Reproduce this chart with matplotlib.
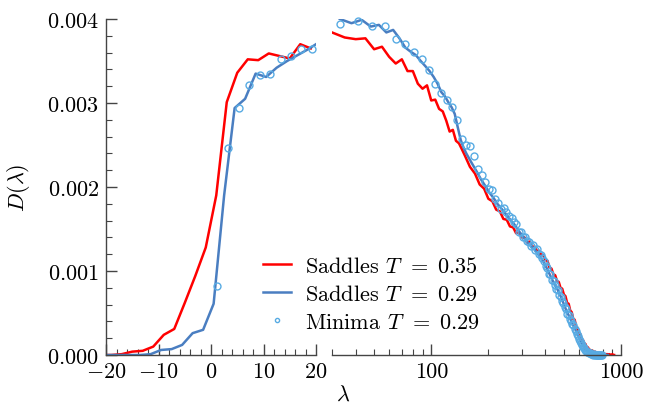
import numpy as np
import matplotlib
matplotlib.use("Agg")
import matplotlib.pyplot as plt
from matplotlib.ticker import MultipleLocator, NullFormatter, LogLocator

plt.rcParams['font.family'] = 'serif'
plt.rcParams['font.serif'] = ['cmr10']
plt.rcParams['mathtext.fontset'] = 'cm'
plt.rcParams['axes.formatter.use_mathtext'] = True
plt.rcParams['font.size'] = 16

RED = '#FF0000'
BLUE = '#4A7EC1'
LIGHT = '#58ABE3'
SPINE = '#444444'

# ---------------- left panel (linear lambda) ----------------
lam_red_left = [-21, -19, -17, -15, -13, -11, -9, -7, -5, -3, -1, 1, 3, 5, 7, 9, 11, 13, 15, 17, 19]
d_red_left = [0.0, 0.0, 0.00001, 0.00004, 0.00005, 0.0001, 0.00024, 0.00031, 0.00062, 0.00094,
              0.00128, 0.0019, 0.00301, 0.00336, 0.00352, 0.00351, 0.00359, 0.00356, 0.00353,
              0.0037, 0.00365]

lam_blue_left = [-21.5, -19.5, -17.5, -15.5, -13.5, -11.5, -9.5, -7.5, -5.5, -3.5, -1.5, 0.5,
                 2.5, 4.5, 6.5, 8.5, 10.5, 12.5, 14.5, 16.5, 18.5, 20.5]
d_blue_left = [0.0, 0.0, 0.0, 0.0, 0.0, 0.00001, 0.00006, 0.00007, 0.00012, 0.00026, 0.0003,
               0.00061, 0.0019, 0.00294, 0.00305, 0.00335, 0.00331, 0.00342, 0.0035, 0.00357,
               0.00364, 0.00372]

lam_min_left = [1.2, 3.2, 5.3, 7.2, 9.3, 11.3, 13.3, 15.2, 17.2, 19.2]
d_min_left = [0.00082, 0.00246, 0.00294, 0.00322, 0.00333, 0.00335, 0.00352, 0.00356,
              0.00364, 0.00364]

# ---------------- right panel (log lambda) ----------------
lam_red_right = np.concatenate([np.arange(30, 150, 5), np.arange(150, 930, 10)])
d_red_right = [
    0.00384, 0.00378, 0.00376, 0.00377, 0.00364, 0.00367, 0.00355, 0.00347, 0.00352, 0.00338,
    0.00338, 0.00323, 0.00317, 0.00321, 0.00303, 0.00304, 0.00293, 0.00290, 0.00279, 0.00266,
    0.00268, 0.00255, 0.00252, 0.00245,
    0.00238, 0.00224, 0.00216, 0.00203, 0.00198, 0.00186, 0.00183, 0.00173, 0.00171, 0.00162,
    0.00161, 0.00153, 0.00152, 0.00145, 0.00146, 0.00140, 0.00140, 0.00134, 0.00135, 0.00129,
    0.00129, 0.00124, 0.00124, 0.00119, 0.00119, 0.00113, 0.00112, 0.00104, 0.00103, 0.00096,
    0.00095, 0.00088, 0.00087, 0.00080, 0.00079, 0.00072, 0.00070, 0.00062, 0.00061, 0.00053,
    0.00051, 0.00043, 0.00042, 0.00034, 0.00032, 0.00026, 0.00025, 0.00019, 0.00018, 0.00014,
    0.00013, 0.00009, 0.00009, 0.00006, 0.00006, 0.00004, 0.00005, 0.00003, 0.00004, 0.00002,
    0.00003, 0.00002, 0.00002, 0.00001, 0.00002, 0.00001, 0.00002, 0.00001, 0.00001, 0.00001,
    0.00001, 0.0, 0.00001, 0.0, 0.0, 0.00001, 0.0, 0.0]

lam_blue_right = np.concatenate([np.arange(33, 150, 5), np.arange(153, 860, 10)])
d_blue_right = [
    0.00400, 0.00395, 0.00399, 0.00391, 0.00393, 0.00384, 0.00387, 0.00377, 0.00366, 0.00361,
    0.00357, 0.00350, 0.00344, 0.00338, 0.00331, 0.00323, 0.00313, 0.00308, 0.00301, 0.00295,
    0.00287, 0.00271, 0.00256, 0.00247,
    0.00240, 0.00229, 0.00219, 0.00209, 0.00201, 0.00193, 0.00187, 0.00180, 0.00175, 0.00170,
    0.00165, 0.00160, 0.00156, 0.00151, 0.00146, 0.00142, 0.00138, 0.00134, 0.00131, 0.00128,
    0.00125, 0.00121, 0.00118, 0.00114, 0.00110, 0.00105, 0.00100, 0.00095, 0.00090, 0.00086,
    0.00082, 0.00078, 0.00073, 0.00069, 0.00064, 0.00059, 0.00054, 0.00050, 0.00046, 0.00042,
    0.00038, 0.00034, 0.00031, 0.00027, 0.00023, 0.00020, 0.00016, 0.00013, 0.00010, 0.00008,
    0.00006, 0.00005, 0.00004, 0.00003, 0.00002, 0.00002, 0.00001, 0.00001, 0.00001, 0.00001,
    0.0, 0.00001, 0.0, 0.0, 0.0, 0.0, 0.0, 0.0, 0.0, 0.0, 0.0]

lam_min_right = np.arange(33, 800, 8)
d_min_right = [
    0.00394, 0.00398, 0.00392, 0.00392, 0.00376, 0.00370, 0.00361, 0.00352, 0.00339, 0.00323,
    0.00312, 0.00303, 0.00295, 0.00280, 0.00257, 0.00250, 0.00249, 0.00237, 0.00221, 0.00214,
    0.00206, 0.00198, 0.00196, 0.00186, 0.00181, 0.00174, 0.00175, 0.00170, 0.00165, 0.00163,
    0.00158, 0.00156, 0.00146, 0.00147, 0.00140, 0.00141, 0.00136, 0.00135, 0.00130, 0.00131,
    0.00125, 0.00126, 0.00120, 0.00119, 0.00116, 0.00112, 0.00106, 0.00104, 0.00096, 0.00097,
    0.00089, 0.00088, 0.00083, 0.00079, 0.00077, 0.00071, 0.00069, 0.00064, 0.00062, 0.00057,
    0.00055, 0.00049, 0.00048, 0.00043, 0.00041, 0.00037, 0.00036, 0.00031, 0.00029, 0.00025,
    0.00023, 0.00019, 0.00017, 0.00014, 0.00012, 0.00010, 0.00008, 0.00006, 0.00005, 0.00004,
    0.00003, 0.00002, 0.00002, 0.00001, 0.00001, 0.0, 0.00001, 0.0, 0.0, 0.0,
    0.0, 0.0, 0.0, 0.0, 0.0, 0.0]

labels = [r'Saddles $T\,\;=\;0.35$', r'Saddles $T\,\;=\;0.29$', r'Minima $T\,\;=\;0.29$']

fig = plt.figure(figsize=(6.45, 4.10), dpi=100)
H = 410.0
W = 645.0
bottom = 1 - 356 / H
height = 336 / H
ax1 = fig.add_axes([106 / W, bottom, 210 / W, height])
ax2 = fig.add_axes([332 / W, bottom, 289 / W, height])

line_kw = dict(lw=1.8)
mark_kw = dict(ls='none', marker='o', ms=5.0, mfc='none', mec=LIGHT, mew=1.0, clip_on=False)

h1, = ax1.plot(lam_red_left, d_red_left, color=RED, **line_kw)
h2, = ax1.plot(lam_blue_left, d_blue_left, color=BLUE, **line_kw)
h3, = ax1.plot(lam_min_left, d_min_left, **mark_kw)

ax2.plot(lam_red_right, d_red_right, color=RED, **line_kw)
ax2.plot(lam_blue_right, d_blue_right, color=BLUE, **line_kw)
ax2.plot(lam_min_right, d_min_right, **mark_kw)

ax1.set_xlim(-20, 20)
ax1.set_ylim(0, 0.004)
ax1.xaxis.set_major_locator(MultipleLocator(10))
ax1.xaxis.set_minor_locator(MultipleLocator(2))
ax1.yaxis.set_major_locator(MultipleLocator(0.001))
ax1.yaxis.set_minor_locator(MultipleLocator(0.0002))
ax1.ticklabel_format(axis='y', style='plain', useOffset=False)

ax2.set_xscale('log')
ax2.set_xlim(30, 1000)
ax2.set_ylim(0, 0.004)
ax2.xaxis.set_minor_locator(LogLocator(base=10, subs=np.arange(2, 10), numticks=20))
ax2.set_xticks([100, 1000], labels=['100', '1000'])
ax2.xaxis.set_minor_formatter(NullFormatter())

for ax in (ax1, ax2):
    ax.spines['top'].set_visible(False)
    ax.spines['right'].set_visible(False)
    for s in ax.spines.values():
        s.set_color(SPINE)
        s.set_linewidth(1.0)
    ax.tick_params(which='both', direction='in', color=SPINE, labelcolor='black', pad=5)
    ax.tick_params(which='major', length=8, width=1.0)
    ax.tick_params(which='minor', length=4, width=0.8)

ax2.spines['left'].set_visible(False)
ax2.tick_params(axis='y', which='both', left=False, labelleft=False)

fig.text(18 / W, 1 - 188 / H, r'$D(\lambda)$', rotation=90, ha='center', va='center', fontsize=16)
fig.text(343 / W, 1 - 395 / H, r'$\lambda$', ha='center', va='center', fontsize=16)

fig.legend([h1, h2, h3], labels, loc='center', bbox_to_anchor=(371 / W, 1 - 295 / H),
           frameon=False, fontsize=16, handlelength=1.3, handletextpad=0.6,
           labelspacing=0.38, markerscale=0.6, borderpad=0, borderaxespad=0)

fig.savefig('out.png', dpi=100)
